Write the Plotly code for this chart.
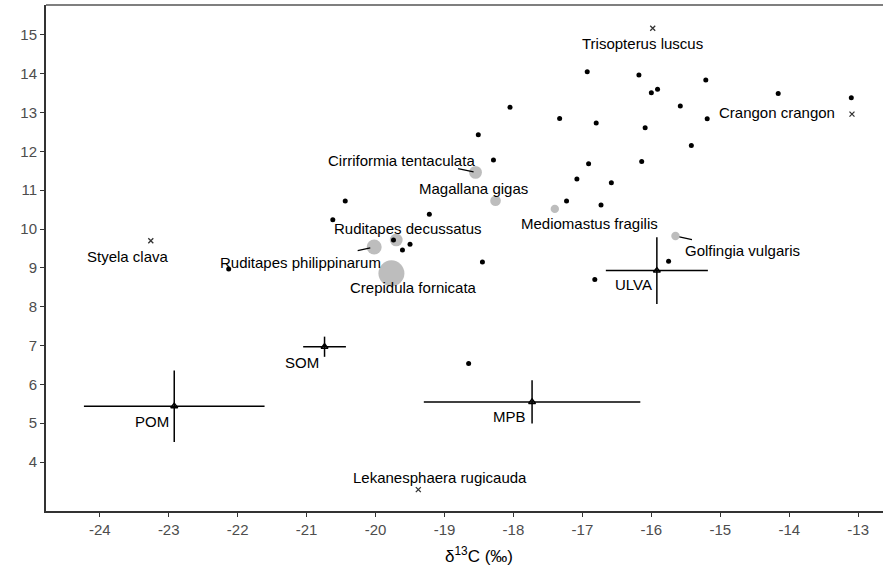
import plotly.graph_objects as go

# consumer individuals (black dots)
ind_d13c = [-22.13, -16.93, -18.05, -17.33, -16.80, -18.51, -18.29, -16.91, -17.08, -17.23,
            -20.44, -20.62, -19.22, -19.74, -19.50, -19.61, -18.45, -16.82, -16.73, -16.18,
            -15.21, -16.00, -15.91, -15.58, -14.16, -13.10, -15.19, -16.09, -15.42, -16.14,
            -16.58, -15.75, -18.65]
ind_d15n = [8.97, 14.05, 13.14, 12.85, 12.73, 12.43, 11.78, 11.68, 11.29, 10.72,
            10.72, 10.24, 10.38, 9.72, 9.61, 9.46, 9.15, 8.70, 10.62, 13.97,
            13.84, 13.51, 13.60, 13.17, 13.49, 13.38, 12.84, 12.61, 12.15, 11.74,
            11.19, 9.17, 6.54]

# species means (grey circles, size ~ sample size)
mean_names = ["Cirriformia tentaculata", "Magallana gigas", "Mediomastus fragilis",
              "Golfingia vulgaris", "Ruditapes decussatus", "Ruditapes philippinarum",
              "Crepidula fornicata"]
mean_d13c = [-18.55, -18.26, -17.40, -15.65, -19.70, -20.02, -19.77]
mean_d15n = [11.46, 10.73, 10.52, 9.82, 9.72, 9.54, 8.86]
mean_n = [4, 3, 2, 2, 4, 5, 10]

# single-sample species (crosses)
single_names = ["Trisopterus luscus", "Crangon crangon", "Styela clava", "Lekanesphaera rugicauda"]
single_d13c = [-15.98, -13.09, -23.26, -19.38]
single_d15n = [15.17, 12.96, 9.70, 3.29]

# food sources: mean +/- sd
src_names = ["POM", "SOM", "MPB", "ULVA"]
src_d13c = [-22.92, -20.74, -17.73, -15.92]
src_d15n = [5.44, 6.97, 5.55, 8.93]
src_sd_c = [1.31, 0.31, 1.57, 0.74]
src_sd_n = [0.92, 0.26, 0.56, 0.86]

x_ticks = list(range(-24, -12))
y_ticks = list(range(4, 16))

# label offsets in px (dx, dy up)
LABEL_SHIFT = {
    "Trisopterus luscus": (-10, -15),
    "Crangon crangon": (-75, 2),
    "Cirriformia tentaculata": (-74, 12),
    "Magallana gigas": (-22, 12),
    "Mediomastus fragilis": (35, -15),
    "Golfingia vulgaris": (67, -14),
    "Ruditapes decussatus": (12, 11),
    "Ruditapes philippinarum": (-74, -16),
    "Crepidula fornicata": (22, -14),
    "Styela clava": (-23, -16),
    "Lekanesphaera rugicauda": (22, 12),
    "POM": (-22, -15),
    "SOM": (-23, -16),
    "MPB": (-23, -15),
    "ULVA": (-23, -14),
}
# short repel segments (tail offset px, standoff)
SEGMENTS = {
    "Cirriformia tentaculata": (-19, -4, 2),
    "Ruditapes philippinarum": (-18, 4, 4),
    "Golfingia vulgaris": (18, 4, 4),
}

fig = go.Figure()

fig.add_trace(go.Scatter(
    x=mean_d13c, y=mean_d15n, mode="markers",
    marker=dict(size=[4 + 2.2 * n for n in mean_n], color="rgba(120,120,120,0.7)", line=dict(width=0)),
    hoverinfo="skip"))

fig.add_trace(go.Scatter(
    x=ind_d13c, y=ind_d15n, mode="markers",
    marker=dict(size=5, color="black"), hoverinfo="skip"))

fig.add_trace(go.Scatter(
    x=single_d13c, y=single_d15n, mode="markers",
    marker=dict(symbol="x-thin", size=5, line=dict(width=1.3, color="#333333")),
    hoverinfo="skip"))

fig.add_trace(go.Scatter(
    x=src_d13c, y=src_d15n, mode="markers",
    marker=dict(symbol="triangle-up-open", size=6, color="black", line=dict(width=1.5)),
    error_x=dict(type="data", array=src_sd_c, width=0, thickness=1.5, color="black"),
    error_y=dict(type="data", array=src_sd_n, width=0, thickness=1.5, color="black"),
    hoverinfo="skip"))

label_font = dict(family="Liberation Sans, Arial", size=15, color="black")
points = list(zip(mean_names, mean_d13c, mean_d15n)) + \
    list(zip(single_names, single_d13c, single_d15n)) + \
    list(zip(src_names, src_d13c, src_d15n))
for name, x, y in points:
    dx, dy = LABEL_SHIFT[name]
    fig.add_annotation(x=x, y=y, text=name, showarrow=False, xshift=dx, yshift=dy,
                       font=label_font)
    if name in SEGMENTS:
        ax, ay, so = SEGMENTS[name]
        fig.add_annotation(x=x, y=y, text="", showarrow=True, ax=ax, ay=ay, axref="pixel",
                           arrowhead=0, arrowwidth=1.3, arrowcolor="black", standoff=so)

# x axis title (panel is cropped on the right, so centre sits right of the visible middle)
fig.add_annotation(text="\u03b4<sup>13</sup>C (\u2030)", xref="paper", yref="paper", x=0.5, y=0,
                   xshift=14, yshift=-44, yanchor="middle", showarrow=False,
                   font=dict(family="Liberation Sans, Arial", size=17, color="black"))

fig.add_shape(type="line", xref="paper", yref="paper", x0=0, x1=1, y0=1, y1=1,
              line=dict(color="#7f7f7f", width=2))

tick_font = dict(family="Liberation Sans, Arial", size=15, color="#4D4D4D")
fig.update_layout(
    width=883, height=573,
    plot_bgcolor="white", paper_bgcolor="white",
    margin=dict(l=46, r=0, t=5, b=62),
    showlegend=False,
    xaxis=dict(range=[-24.78, -12.64], tickvals=x_ticks, ticktext=[str(v) for v in x_ticks],
               showgrid=False, zeroline=False, automargin=False,
               showline=True, linecolor="#333333", linewidth=2, ticks="outside", ticklen=4,
               tickcolor="#333333", tickwidth=1.2, tickfont=tick_font),
    yaxis=dict(range=[2.74, 15.77], tickvals=y_ticks, showgrid=False, zeroline=False, automargin=False,
               showline=True, linecolor="#333333", linewidth=2, ticks="outside", ticklen=4,
               tickcolor="#333333", tickwidth=1.2, tickfont=tick_font),
)

fig.write_html("out.html", config={"displayModeBar": False},
               post_script="document.body.style.margin='0px';")
